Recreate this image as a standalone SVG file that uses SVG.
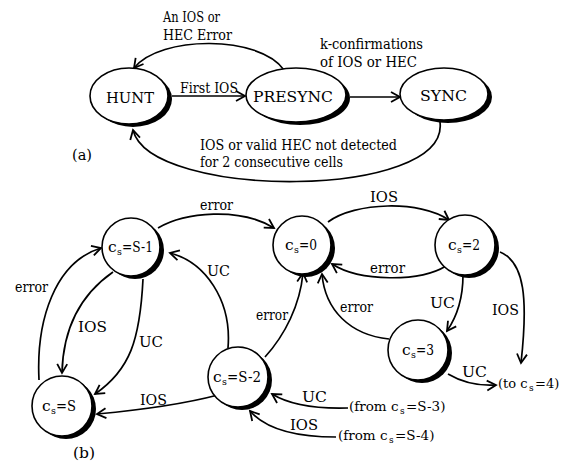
<svg xmlns="http://www.w3.org/2000/svg" width="561" height="463" viewBox="0 0 561 463">
<style>
text{fill:#000;font-family:"DejaVu Serif",serif;font-size:15.5px}
.sub{font-size:9.5px}
.sm{font-size:13.5px}
.sm2{font-size:13px}
.sub2{font-size:9px}
.shadow{fill:#000}
.node{fill:#fff;stroke:#000;stroke-width:1.6}
.e{fill:none;stroke:#000;stroke-width:1.7;marker-end:url(#arr)}
</style>
<defs>
<marker id="arr" markerUnits="userSpaceOnUse" markerWidth="14" markerHeight="14" refX="10" refY="6" orient="auto" viewBox="0 0 14 12">
<path d="M1,1 L10,6 L1,11" fill="none" stroke="#000" stroke-width="1.8"/>
</marker>
</defs>
<rect width="561" height="463" fill="#fff"/>

<g id="connectors">
<path class="e" d="M172 96 L245 96"/>
<path class="e" d="M350 97 L400 97"/>
<path class="e" d="M284 70 C260 35, 160 35, 134 68"/>
<path class="e" d="M440 122 C450 200, 150 200, 133 130"/>

<path class="e" d="M158 228 C185 212, 240 207, 274 228"/>
<path class="e" d="M328 222 C355 202, 420 200, 449 220"/>
<path class="e" d="M446 266 C420 282, 360 282, 332 264"/>
<path class="e" d="M463 275 C463 295, 458 315, 447 331"/>
<path class="e" d="M389 339 C350 335, 325 310, 322 274"/>
<path class="e" d="M500 252 C525 262, 528 300, 521 363"/>
<path class="e" d="M448 374 C465 384, 480 386, 496 385"/>
<path class="e" d="M265 357 C285 335, 300 305, 303 273"/>
<path class="e" d="M228 348 C232 300, 205 262, 170 253"/>
<path class="e" d="M39 380 C36 320, 55 262, 101 248"/>
<path class="e" d="M113 272 C80 295, 63 330, 62 373"/>
<path class="e" d="M143 279 C140 340, 130 370, 95 394"/>
<path class="e" d="M218 395 C180 405, 140 410, 97 414"/>
<path class="e" d="M348 408 C315 409, 290 405, 272 394"/>
<path class="e" d="M336 437 C295 437, 265 428, 250 411"/>
</g>

<g id="labels">
<text x="163" y="22" textLength="57" lengthAdjust="spacingAndGlyphs">An IOS or</text>
<text x="163" y="40" textLength="69" lengthAdjust="spacingAndGlyphs">HEC Error</text>
<text x="180" y="93" textLength="58" lengthAdjust="spacingAndGlyphs">First IOS</text>
<text x="320" y="49" textLength="103" lengthAdjust="spacingAndGlyphs">k-confirmations</text>
<text x="320" y="67" textLength="97" lengthAdjust="spacingAndGlyphs">of IOS or HEC</text>
<text x="200" y="150" textLength="197" lengthAdjust="spacingAndGlyphs">IOS or valid HEC not detected</text>
<text x="200" y="167" textLength="143" lengthAdjust="spacingAndGlyphs">for 2 consecutive cells</text>
<text x="72" y="160" textLength="20" lengthAdjust="spacingAndGlyphs">(a)</text>

<text x="200" y="210" textLength="33" lengthAdjust="spacingAndGlyphs">error</text>
<text x="370" y="202" textLength="28" lengthAdjust="spacingAndGlyphs">IOS</text>
<text x="370" y="273" textLength="35" lengthAdjust="spacingAndGlyphs">error</text>
<text x="430" y="308" textLength="25" lengthAdjust="spacingAndGlyphs">UC</text>
<text x="340" y="312" textLength="33" lengthAdjust="spacingAndGlyphs">error</text>
<text x="492" y="315" textLength="27" lengthAdjust="spacingAndGlyphs">IOS</text>
<text x="462" y="377" textLength="25" lengthAdjust="spacingAndGlyphs">UC</text>
<text class="sm2" x="498" y="388">(to c</text>
<text class="sub2" x="529" y="391">s</text>
<text class="sm2" x="535" y="388">=4)</text>
<text x="256" y="320" textLength="32" lengthAdjust="spacingAndGlyphs">error</text>
<text x="207" y="276" textLength="23" lengthAdjust="spacingAndGlyphs">UC</text>
<text x="15" y="292" textLength="33" lengthAdjust="spacingAndGlyphs">error</text>
<text x="78" y="332" textLength="29" lengthAdjust="spacingAndGlyphs">IOS</text>
<text x="139" y="347" textLength="24" lengthAdjust="spacingAndGlyphs">UC</text>
<text x="140" y="405" textLength="27" lengthAdjust="spacingAndGlyphs">IOS</text>
<text x="302" y="402" textLength="25" lengthAdjust="spacingAndGlyphs">UC</text>
<text class="sm" x="349" y="411">(from c</text>
<text class="sub2" x="400" y="414">s</text>
<text class="sm" x="406" y="411">=S-3)</text>
<text x="290" y="430" textLength="28" lengthAdjust="spacingAndGlyphs">IOS</text>
<text class="sm" x="338" y="440">(from c</text>
<text class="sub2" x="389" y="443">s</text>
<text class="sm" x="395" y="440">=S-4)</text>
<text x="73" y="458" textLength="22" lengthAdjust="spacingAndGlyphs">(b)</text>
</g>

<g id="hunt">
<ellipse class="shadow" cx="133" cy="99" rx="39" ry="28"/>
<ellipse class="node" cx="129" cy="96" rx="39" ry="28"/>
<text x="106" y="103" textLength="48" lengthAdjust="spacingAndGlyphs">HUNT</text>
</g>
<g id="presync">
<ellipse class="shadow" cx="300" cy="98" rx="50" ry="27"/>
<ellipse class="node" cx="296" cy="95" rx="50" ry="27"/>
<text x="253" y="102" textLength="80" lengthAdjust="spacingAndGlyphs">PRESYNC</text>
</g>
<g id="sync">
<ellipse class="shadow" cx="448" cy="97" rx="44" ry="26"/>
<ellipse class="node" cx="444" cy="94" rx="44" ry="26"/>
<text x="420" y="101" textLength="47" lengthAdjust="spacingAndGlyphs">SYNC</text>
</g>

<g id="cs-S-1">
<circle class="shadow" cx="135" cy="250" r="29"/>
<circle class="node" cx="131" cy="247" r="29"/>
<text x="108" y="252">c</text>
<text class="sub" x="117" y="255">s</text>
<text x="122" y="252" textLength="31" lengthAdjust="spacingAndGlyphs">=S-1</text>
</g>
<g id="cs-0">
<circle class="shadow" cx="306" cy="248" r="29"/>
<circle class="node" cx="302" cy="245" r="29"/>
<text x="285" y="250">c</text>
<text class="sub" x="294" y="253">s</text>
<text x="299" y="250" textLength="18" lengthAdjust="spacingAndGlyphs">=0</text>
</g>
<g id="cs-2">
<circle class="shadow" cx="469" cy="248" r="30"/>
<circle class="node" cx="465" cy="245" r="30"/>
<text x="448" y="250">c</text>
<text class="sub" x="457" y="253">s</text>
<text x="462" y="250" textLength="18" lengthAdjust="spacingAndGlyphs">=2</text>
</g>
<g id="cs-3">
<circle class="shadow" cx="422" cy="353" r="30"/>
<circle class="node" cx="418" cy="350" r="30"/>
<text x="402" y="355">c</text>
<text class="sub" x="411" y="358">s</text>
<text x="416" y="355" textLength="18" lengthAdjust="spacingAndGlyphs">=3</text>
</g>
<g id="cs-S">
<circle class="shadow" cx="66" cy="409" r="30"/>
<circle class="node" cx="62" cy="406" r="30"/>
<text x="42" y="411">c</text>
<text class="sub" x="51" y="414">s</text>
<text x="56" y="411" textLength="20" lengthAdjust="spacingAndGlyphs">=S</text>
</g>
<g id="cs-S-2">
<circle class="shadow" cx="242" cy="380" r="30"/>
<circle class="node" cx="238" cy="377" r="30"/>
<text x="213" y="382">c</text>
<text class="sub" x="222" y="385">s</text>
<text x="227" y="382" textLength="34" lengthAdjust="spacingAndGlyphs">=S-2</text>
</g>
</svg>
